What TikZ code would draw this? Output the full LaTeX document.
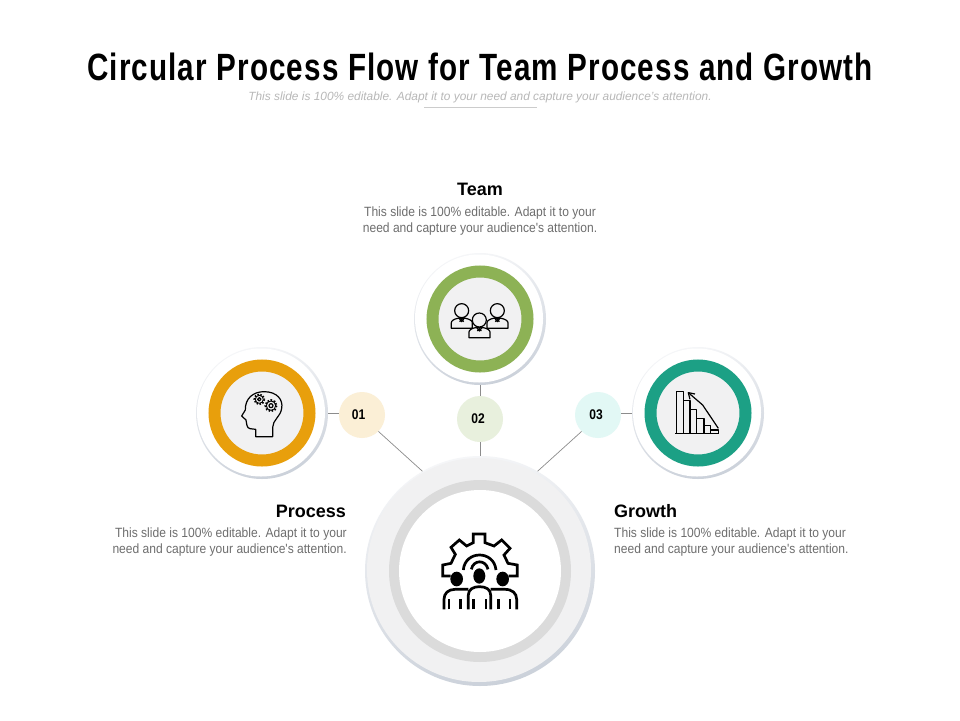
\documentclass[tikz,border=0pt]{standalone}
\usepackage{fontspec}
\setmainfont{Liberation Sans}
\newfontfamily\titlefont[FakeStretch=0.78,LetterSpace=3]{Liberation Sans}
\newfontfamily\bodyfont[FakeStretch=0.9]{Liberation Sans}
\newfontfamily\badgefont[FakeStretch=0.86]{Liberation Sans}
\definecolor{orangering}{HTML}{E89F0C}
\definecolor{greenring}{HTML}{8DB255}
\definecolor{tealring}{HTML}{1CA085}
\definecolor{discgrey}{HTML}{F1F1F2}
\definecolor{linegrey}{HTML}{8C8C8C}
\definecolor{bodygrey}{HTML}{6E6E6E}
\definecolor{haloedge}{HTML}{CBD1DA}
\definecolor{halolight}{HTML}{F5F6F8}
\definecolor{tealbadge}{HTML}{E2F8F5}
\tikzset{
  halo/.style={circle,inner sep=0pt,minimum size=132pt,left color=halolight,right color=haloedge,shading angle=15},
  ring/.style={circle,inner sep=0pt,minimum size=95pt,line width=12pt,fill=discgrey},
  badge/.style={circle,inner sep=0pt,minimum size=46pt,font=\badgefont\fontsize{14}{14}\selectfont\bfseries},
  head/.style={inner sep=0pt,font=\fontsize{18}{18}\selectfont\bfseries},
  body/.style={inner sep=0pt,text=bodygrey,font=\bodyfont\fontsize{13.4}{16}\selectfont},
  link/.style={color=linegrey,line width=.7pt},
  iconline/.style={line width=1.2pt,line join=round},
  corelineicon/.style={line width=2.7pt,line join=miter}
}
\begin{document}
\begin{tikzpicture}[x=1pt,y=-1pt]
\useasboundingbox (0,0) rectangle (960,720);
\fill[white] (0,0) rectangle (960,720);
\node[inner sep=0pt,font=\titlefont\fontsize{38}{38}\selectfont\bfseries] (title) at (480,67) {Circular Process Flow for Team Process and Growth};
\node[inner sep=0pt,text=black!28,font=\fontsize{11.9}{14}\selectfont\itshape] (subtitle) at (480,97.5) {This slide is 100\% editable. Adapt it to your need and capture your audience's attention.};
\coordinate (rulea) at (424,107);
\coordinate (ruleb) at (537,107);
\draw[black!20,line width=.6pt] (rulea) -- (ruleb);

\node[circle,inner sep=0pt,minimum size=230pt,left color=halolight,right color=haloedge,shading angle=15] (core) at (480,571) {};
\fill[color=discgrey] (479,570) circle (112);
\fill[color=black!14] (480,571) circle (91);
\fill[color=white] (480,571) circle (81);

\node[halo] (process) at (262,413) {};
\fill[white] (261,412.5) circle (64);
\node[ring,draw=orangering] at (262,413) {};
\node[halo] (team) at (480,319) {};
\fill[white] (479,318.5) circle (64);
\node[ring,draw=greenring] at (480,319) {};
\node[halo] (growth) at (698,413) {};
\fill[white] (697,412.5) circle (64);
\node[ring,draw=tealring] at (698,413) {};

\node[badge,fill=orangering!17] (one) at (362,415) {01\kern7pt};
\node[badge,fill=greenring!20] (two) at (480,419) {02\kern4pt};
\node[badge,fill=tealbadge] (three) at (598,415) {03\kern4pt};

\draw[link] (process.east) -- (one.west |- process.east);
\draw[link] (team) -- (two);
\draw[link] (two) -- (core);
\draw[link] (growth.west) -- (three.east |- growth.west);
\draw[link] (one.south east) -- (core.120);
\draw[link] (three.south west) -- (core.60);

\node[head] (teamhead) at (480,189) {Team};
\node[body,align=center,anchor=north] (teambody) at (480,206.5) {This slide is 100\% editable. Adapt it to your\\need and capture your audience's attention.};
\node[head,anchor=east] (processhead) at (346,511) {Process};
\node[body,align=right,anchor=north east] (processbody) at (347,527.5) {This slide is 100\% editable. Adapt it to your\\need and capture your audience's attention.};
\node[head,anchor=west] (growthhead) at (614,511) {Growth};
\node[body,align=left,anchor=north west] (growthbody) at (614,527.5) {This slide is 100\% editable. Adapt it to your\\need and capture your audience's attention.};

\begin{scope}[shift={(190,340)},x=.3333pt,y=-.3333pt,iconline]
\draw (197,290) -- (197,268) -- (180,266) .. controls (170,265) and (170,250) .. (168,240) -- (155,228) -- (166,210) .. controls (165,175) and (190,155) .. (222,155) .. controls (262,155) and (280,180) .. (275,205) .. controls (272,230) and (248,240) .. (248,262) -- (248,290) -- cycle;
\draw[line width=1.8pt,dash pattern=on 1.5pt off 1.5pt] (208,178) circle (15);
\draw[line width=.9pt,fill=discgrey] (208,178) circle (12);
\draw (208,178) circle (5);
\draw[line width=1.8pt,dash pattern=on 1.6pt off 1.6pt] (243,197) circle (17);
\draw[line width=.9pt,fill=discgrey] (243,197) circle (14);
\draw (243,197) circle (6);
\end{scope}

\begin{scope}[shift={(410,250)},x=.3333pt,y=-.3333pt,iconline]
\foreach \px/\py in {155/182,262/182,208/210}{
  \draw[fill=discgrey] (\px-31,\py+53) -- (\px-31,\py+36) .. controls (\px-31,\py+30) and (\px-22,\py+25) .. (\px-12,\py+23) -- (\px+12,\py+23) .. controls (\px+22,\py+25) and (\px+32,\py+30) .. (\px+32,\py+36) -- (\px+32,\py+53) -- cycle;
  \draw[fill=discgrey] (\px,\py) circle (21);
  \draw (\px-9,\py+21) -- (\px,\py+33) -- (\px+9,\py+21);
  \draw (\px-6,\py+33) -- (\px,\py+26) -- (\px+6,\py+33);
}
\end{scope}

\begin{scope}[shift={(570,340)},x=.3333pt,y=-.3333pt,iconline]
\draw (316,280) -- (448,280);
\draw (320,280) -- (320,155) -- (340,155) -- (340,280);
\draw (340,182) -- (360,182) -- (360,280);
\draw (360,208) -- (380,208) -- (380,280);
\draw (380,235) -- (402,235) -- (402,280);
\draw (402,257) -- (422,257) -- (422,280);
\draw (422,270) -- (445,270) -- (445,280);
\draw (445,265) -- (398,195) -- (355,158);
\draw (360,178) -- (355,158) -- (375,162);
\end{scope}

\begin{scope}[shift={(420,520)},x=.3333pt,y=-.3333pt,corelineicon]
\draw (92,168) -- (68,168) -- (68,135) -- (93,130) -- (106,103) -- (93,82) -- (118,60) -- (140,78) -- (160,68) -- (160,42) -- (195,42) -- (195,68) -- (222,78) -- (245,60) -- (270,85) -- (252,105) -- (264,130) -- (292,135) -- (292,168) -- (266,168);
\draw (130,150) .. controls (135,90) and (222,90) .. (228,150);
\draw (154,148) .. controls (160,118) and (198,118) .. (204,148);
\fill (110,177) ellipse (19 and 22);
\fill (178,168) ellipse (18 and 23);
\fill (248,177) ellipse (19 and 22);
\draw (72,268) -- (72,238) .. controls (72,220) and (85,208) .. (105,208) -- (145,208);
\draw (290,268) -- (290,238) .. controls (290,220) and (277,208) .. (255,208) -- (212,208);
\draw[fill=white] (145,268) -- (145,225) .. controls (145,208) and (160,200) .. (178,200) .. controls (198,200) and (212,208) .. (212,225) -- (212,268);
\foreach \barx in {87,122,160,198,235,270}{
  \draw (\barx,268) -- (\barx,236);
}
\end{scope}
\end{tikzpicture}
\end{document}
